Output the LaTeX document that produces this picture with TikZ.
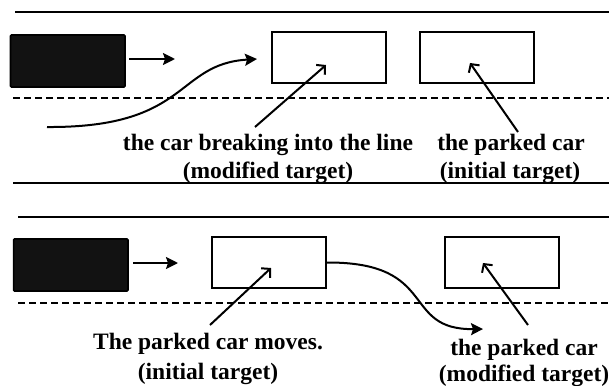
\documentclass[tikz,border=0pt]{standalone}
\usepackage{fontspec}
\setmainfont{Liberation Serif}
\usetikzlibrary{arrows.meta}
\begin{document}
\begin{tikzpicture}[x=1pt,y=-1pt,
  road/.style={line width=2pt},
  lane/.style={line width=2pt,dash pattern=on 7pt off 4pt},
  blackcar/.style={draw=black,fill=black!93,line width=1.6pt,rounded corners=1pt},
  whitecar/.style={draw=black,fill=white,line width=2pt,minimum width=114pt,minimum height=51pt,inner sep=0pt},
  move/.style={line width=2pt,-{Stealth[length=12pt,width=12pt,inset=2pt]}},
  point/.style={line width=2pt,-{Straight Barb[length=6pt,width=13pt,line width=2pt]}},
  lbl/.style={font=\fontsize{23.5}{28}\selectfont\bfseries,anchor=base,inner sep=0pt}]
\useasboundingbox (0,0) rectangle (609,385);
% ---------- top panel ----------
\draw[road] (15,12.5) -- (609,12.5);
\draw[lane] (13,98) -- (609,98);
\draw[road] (13,183) -- (609,183);
\path[blackcar] (10.5,35) rectangle (125,87);
\node[whitecar] (b1) at (329,57.5) {};
\node[whitecar] (b2) at (477,57.5) {};
\coordinate (m1s) at (129,59);
\coordinate (m1e) at (175,59);
\draw[move] (m1s) -- (m1e);
\coordinate (c1s) at (47,127);
\coordinate (c1e) at (257,59);
\draw[move] (c1s) .. controls (190,128) and (175,64) .. (c1e);
\node[lbl] (t1a) at (268,150) {the car breaking into the line};
\node[lbl] (t1b) at (268,178) {(modified target)};
\node[lbl] (t2a) at (511,150) {the parked car};
\node[lbl] (t2b) at (510,178) {(initial target)};
\coordinate (p1s) at (255,127);
\coordinate (p1e) at (326,65);
\draw[point] (p1s) -- (p1e);
\coordinate (p2s) at (518,132);
\coordinate (p2e) at (470,63);
\draw[point] (p2s) -- (p2e);
% ---------- bottom panel ----------
\draw[road] (18,217) -- (609,217);
\draw[lane] (18,303) -- (609,303);
\path[blackcar] (13.6,239) rectangle (128,291);
\node[whitecar] (b3) at (269,262.5) {};
\node[whitecar] (b4) at (502,262.5) {};
\coordinate (m2s) at (133,263);
\coordinate (m2e) at (178,263);
\draw[move] (m2s) -- (m2e);
\coordinate (c2e) at (483,329);
\draw[move] (b3.east) .. controls (440,262) and (400,330) .. (c2e);
\node[lbl] (t3a) at (208,349) {The parked car moves.};
\node[lbl] (t3b) at (208,379) {(initial target)};
\node[lbl] (t4a) at (524,355) {the parked car};
\node[lbl] (t4b) at (524,381) {(modified target)};
\coordinate (p3s) at (210,325);
\coordinate (p3e) at (271,268);
\draw[point] (p3s) -- (p3e);
\coordinate (p4s) at (528,325);
\coordinate (p4e) at (483,263);
\draw[point] (p4s) -- (p4e);
\end{tikzpicture}
\end{document}
